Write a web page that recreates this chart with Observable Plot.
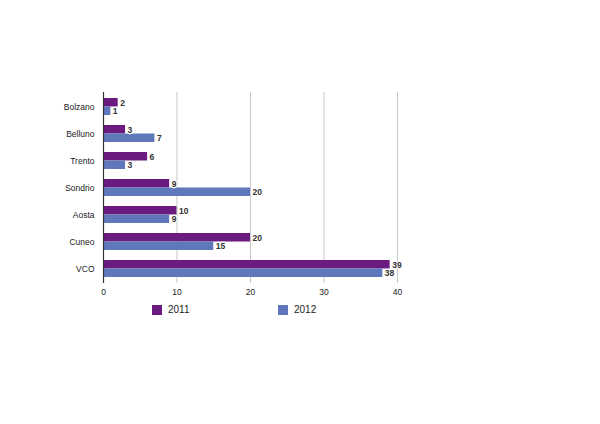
<!DOCTYPE html>
<html>
<head>
<meta charset="utf-8">
<script src="https://cdn.jsdelivr.net/npm/d3@7"></script>
<script src="https://cdn.jsdelivr.net/npm/@observablehq/plot@0.6"></script>
<style>
  html, body { margin: 0; padding: 0; background: #fff; }
  body { width: 600px; height: 424px; font-family: "Liberation Sans", Arial, sans-serif; }
  #legend { position: relative; height: 20px; font-size: 10px; color: #222; }
  .item { position: absolute; top: 1px; display: flex; align-items: center; }
  .sw { width: 10px; height: 10px; margin-right: 6px; }
</style>
</head>
<body>
<div id="chart"></div>
<div id="legend"></div>
<script>
const categories = ["Bolzano", "Belluno", "Trento", "Sondrio", "Aosta", "Cuneo", "VCO"];
const series = ["2011", "2012"];
const v2011 = [2, 3, 6, 9, 10, 20, 39];
const v2012 = [1, 7, 3, 20, 9, 15, 38];
const xTicks = [0, 10, 20, 30, 40];
const colors = ["#6b1a80", "#5f78bb"];

const d2011 = categories.map((c, i) => ({ cat: c, value: v2011[i] }));
const d2012 = categories.map((c, i) => ({ cat: c, value: v2012[i] }));

const half = 8.5;
const chart = Plot.plot({
  width: 600,
  height: 303,
  marginLeft: 103,
  marginRight: 203,
  marginTop: 92,
  marginBottom: 20,
  style: { fontFamily: "'Liberation Sans', Arial, sans-serif", fontSize: "8px", color: "#222" },
  x: { domain: [0, 40] },
  y: { domain: categories, paddingInner: 0.38, paddingOuter: 0.16 },
  marks: [
    Plot.gridX(xTicks, { stroke: "#c8c8c8", strokeOpacity: 1, strokeWidth: 1 }),
    Plot.barX(d2011, { x: "value", y: "cat", fill: colors[0], insetBottom: half }),
    Plot.barX(d2012, { x: "value", y: "cat", fill: colors[1], insetTop: half }),
    Plot.text(d2011, { x: "value", y: "cat", text: d => String(d.value), dy: -4.2, dx: 2, textAnchor: "start", fontSize: 8.5, fontWeight: "bold", fill: "#333", stroke: "white", strokeWidth: 2.5 }),
    Plot.text(d2012, { x: "value", y: "cat", text: d => String(d.value), dy: 4.5, dx: 2, textAnchor: "start", fontSize: 8.5, fontWeight: "bold", fill: "#333", stroke: "white", strokeWidth: 2.5 }),
    Plot.ruleX([0], { stroke: "#333", strokeWidth: 1.2 }),
    Plot.axisY({ tickSize: 0, tickPadding: 9, fontSize: 8.5, label: null }),
    Plot.axisX(xTicks, { tickSize: 0, tickPadding: 5, fontSize: 8.5, label: null })
  ]
});
document.getElementById("chart").appendChild(chart);

const legend = document.getElementById("legend");
const lx = [152, 278];
series.forEach((s, i) => {
  const it = document.createElement("div");
  it.className = "item";
  it.style.left = lx[i] + "px";
  it.innerHTML = `<span class="sw" style="background:${colors[i]}"></span><span>${s}</span>`;
  legend.appendChild(it);
});
</script>
</body>
</html>
